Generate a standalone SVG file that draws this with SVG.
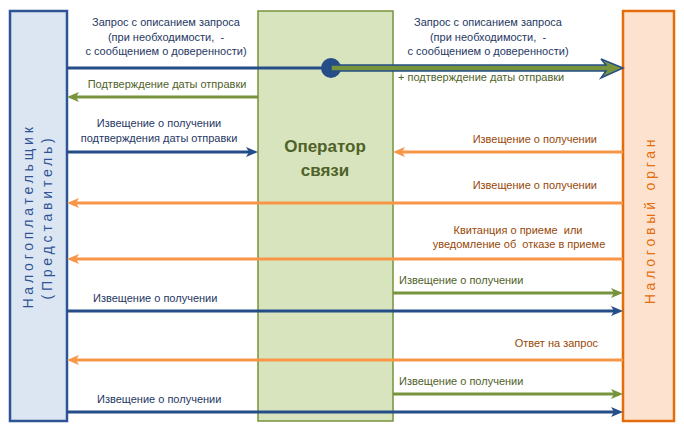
<svg xmlns="http://www.w3.org/2000/svg" width="684" height="431" viewBox="0 0 684 431">
<defs>
<style>
.lbl{font-family:"Liberation Sans",Arial,sans-serif;font-size:11px;white-space:pre}
.b{fill:#1F3864}.g{fill:#4F6228}.o{fill:#984807}
.lb{stroke:#254D87;stroke-width:3;fill:none}
.lg{stroke:#77933C;stroke-width:3;fill:none}
.lo{stroke:#F79646;stroke-width:3;fill:none}
.vt{font-family:"Liberation Sans",Arial,sans-serif;font-size:14px;letter-spacing:3.8px;text-anchor:middle}
</style>
<marker id="ab" viewBox="0 0 12 10" markerWidth="12" markerHeight="10" refX="6" refY="5" orient="auto" markerUnits="userSpaceOnUse"><path d="M0,0 L12,5 L0,10 L3,5 z" fill="#254D87"/></marker>
<marker id="ag" viewBox="0 0 12 10" markerWidth="12" markerHeight="10" refX="6" refY="5" orient="auto" markerUnits="userSpaceOnUse"><path d="M0,0 L12,5 L0,10 L3,5 z" fill="#77933C"/></marker>
<marker id="ao" viewBox="0 0 12 10" markerWidth="12" markerHeight="10" refX="6" refY="5" orient="auto" markerUnits="userSpaceOnUse"><path d="M0,0 L12,5 L0,10 L3,5 z" fill="#F79646"/></marker>
</defs>
<rect width="684" height="431" fill="#FFFFFF"/>
<g id="taxpayer">
<rect x="10" y="11" width="57" height="410" fill="#DCE6F2" stroke="#2F5496" stroke-width="2.5"/>
<text class="vt" fill="#2F5496" transform="translate(33,216) rotate(-90)">Налогоплательщик</text>
<text class="vt" fill="#2F5496" transform="translate(52,217) rotate(-90)">(Представитель)</text>
</g>
<g id="operator">
<rect x="258" y="11" width="135" height="410" fill="#D7E4BD" stroke="#77933C" stroke-width="1.5"/>
<text x="325" y="152" text-anchor="middle" font-family="Liberation Sans,Arial,sans-serif" font-size="17" font-weight="bold" fill="#4F6228">Оператор</text>
<text x="325" y="176" text-anchor="middle" font-family="Liberation Sans,Arial,sans-serif" font-size="17" font-weight="bold" fill="#4F6228">связи</text>
</g>
<g id="taxauthority">
<rect x="623" y="11" width="51" height="410" fill="#FDE3CF" stroke="#E46C0A" stroke-width="2.5"/>
<text class="vt" fill="#E46C0A" transform="translate(655,220) rotate(-90)">Налоговый орган</text>
</g>
<g id="connectors">
<line class="lb" x1="67" y1="68" x2="331" y2="68" stroke-width="4"/>
<circle cx="331" cy="68" r="10" fill="#254D87"/>
<polygon points="331,65 606,65 601,59 623,68 601,78 606,71 331,71" fill="#77933C" stroke="#254D87" stroke-width="1.5" stroke-linejoin="miter"/>
<line class="lg" x1="258" y1="97" x2="73" y2="97" marker-end="url(#ag)"/>
<line class="lb" x1="67" y1="152" x2="252" y2="152" marker-end="url(#ab)"/>
<line class="lo" x1="623" y1="152" x2="399" y2="152" marker-end="url(#ao)"/>
<line class="lo" x1="623" y1="203" x2="73" y2="203" marker-end="url(#ao)"/>
<line class="lo" x1="623" y1="259" x2="73" y2="259" marker-end="url(#ao)"/>
<line class="lg" x1="393" y1="293" x2="617" y2="293" marker-end="url(#ag)"/>
<line class="lb" x1="67" y1="311" x2="617" y2="311" marker-end="url(#ab)"/>
<line class="lo" x1="623" y1="360" x2="73" y2="360" marker-end="url(#ao)"/>
<line class="lg" x1="393" y1="394" x2="617" y2="394" marker-end="url(#ag)"/>
<line class="lb" x1="67" y1="412" x2="617" y2="412" marker-end="url(#ab)"/>
</g>
<g id="labels">
<text class="lbl b" text-anchor="middle" x="166" y="26">Запрос с описанием запроса</text>
<text class="lbl b" text-anchor="middle" x="166" y="41">(при необходимости,  -</text>
<text class="lbl b" text-anchor="middle" x="166" y="55">с сообщением о доверенности)</text>
<text class="lbl b" text-anchor="middle" x="488" y="26">Запрос с описанием запроса</text>
<text class="lbl b" text-anchor="middle" x="488" y="41">(при необходимости,  -</text>
<text class="lbl b" text-anchor="middle" x="488" y="55">с сообщением о доверенности)</text>
<text class="lbl g" x="398" y="81">+ подтверждение даты отправки</text>
<text class="lbl g" text-anchor="middle" x="167" y="88">Подтверждение даты отправки</text>
<text class="lbl b" text-anchor="middle" x="159" y="127">Извещение о получении</text>
<text class="lbl b" text-anchor="middle" x="159" y="142">подтверждения даты отправки</text>
<text class="lbl o" text-anchor="end" x="597" y="143">Извещение о получении</text>
<text class="lbl o" text-anchor="end" x="597" y="189">Извещение о получении</text>
<text class="lbl o" text-anchor="middle" x="518" y="234">Квитанция о приеме  или</text>
<text class="lbl o" text-anchor="middle" x="519" y="248">уведомление об  отказе в приеме</text>
<text class="lbl g" x="399" y="284">Извещение о получении</text>
<text class="lbl b" x="93" y="302">Извещение о получении</text>
<text class="lbl o" text-anchor="end" x="598" y="347">Ответ на запрос</text>
<text class="lbl g" x="399" y="385">Извещение о получении</text>
<text class="lbl b" x="97" y="403">Извещение о получении</text>
</g>
</svg>
